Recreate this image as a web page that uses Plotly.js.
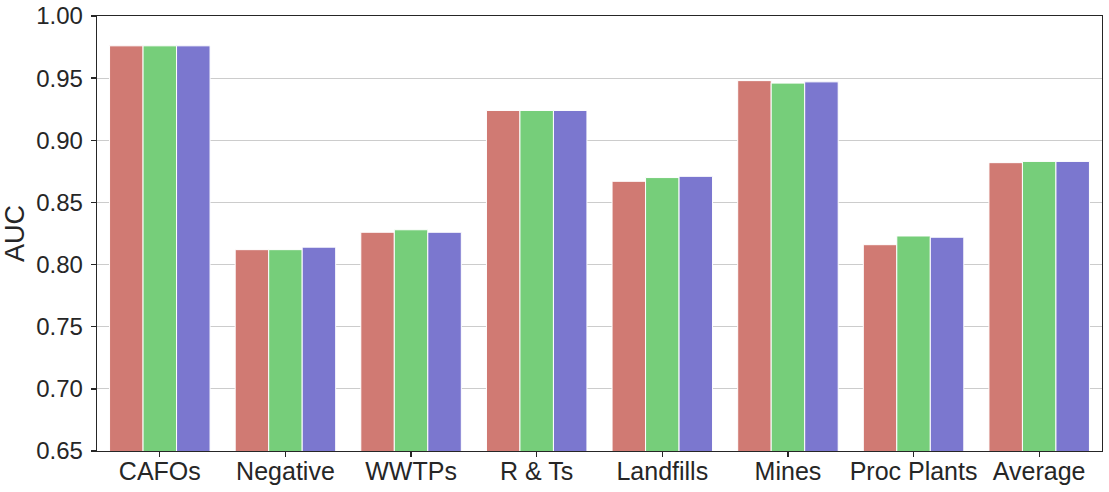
<!DOCTYPE html>
<html>
<head>
<meta charset="utf-8">
<script src="https://cdn.plot.ly/plotly-3.0.1.min.js"></script>
<style>
  html, body { margin: 0; padding: 0; background: #fff; }
  #plot { width: 1109px; height: 492px; }
</style>
</head>
<body>
<div id="plot"></div>
<script>
// categories and AUC per model
var categories = ['CAFOs', 'Negative', 'WWTPs', 'R & Ts', 'Landfills', 'Mines', 'Proc Plants', 'Average'];
var aucRed   = [0.976, 0.812, 0.826, 0.924, 0.867, 0.948, 0.816, 0.882];
var aucGreen = [0.976, 0.812, 0.828, 0.924, 0.870, 0.946, 0.823, 0.883];
var aucBlue  = [0.976, 0.814, 0.826, 0.924, 0.871, 0.947, 0.822, 0.883];
var yTicks = [0.65, 0.70, 0.75, 0.80, 0.85, 0.90, 0.95, 1.00];

function makeTrace(name, y, color) {
  return {
    type: 'bar',
    name: name,
    x: categories,
    y: y,
    marker: { color: color, line: { color: '#ffffff', width: 1 } },
    hoverinfo: 'x+y'
  };
}

var data = [
  makeTrace('Model 1', aucRed, '#d07a73'),
  makeTrace('Model 2', aucGreen, '#76ce7a'),
  makeTrace('Model 3', aucBlue, '#7b77cf')
];

var layout = {
  width: 1109,
  height: 492,
  margin: { l: 97, r: 7, t: 16, b: 41 },
  paper_bgcolor: '#ffffff',
  plot_bgcolor: '#ffffff',
  showlegend: false,
  barmode: 'group',
  bargap: 0.2,
  bargroupgap: 0,
  font: { family: 'Liberation Sans, Arial, sans-serif', size: 24, color: '#262626' },
  xaxis: {
    type: 'category',
    showgrid: false,
    showline: true,
    linecolor: '#262626',
    linewidth: 1.3,
    mirror: true,
    ticks: 'outside',
    ticklen: 5,
    tickwidth: 1.3,
    tickcolor: '#262626',
    ticklabelstandoff: -7,
    tickfont: { size: 25 }
  },
  yaxis: {
    range: [0.65, 1.0],
    tickvals: yTicks,
    tickformat: '.2f',
    showgrid: true,
    gridcolor: '#cccccc',
    gridwidth: 1,
    zeroline: false,
    showline: true,
    linecolor: '#262626',
    linewidth: 1.3,
    mirror: true,
    ticks: 'outside',
    ticklen: 5,
    tickwidth: 1.3,
    tickcolor: '#262626',
    ticklabelstandoff: 3,
    tickfont: { size: 24 },
    title: { text: 'AUC', font: { size: 27 }, standoff: 6 }
  }
};

Plotly.newPlot('plot', data, layout, { displayModeBar: false, staticPlot: true });
</script>
</body>
</html>
